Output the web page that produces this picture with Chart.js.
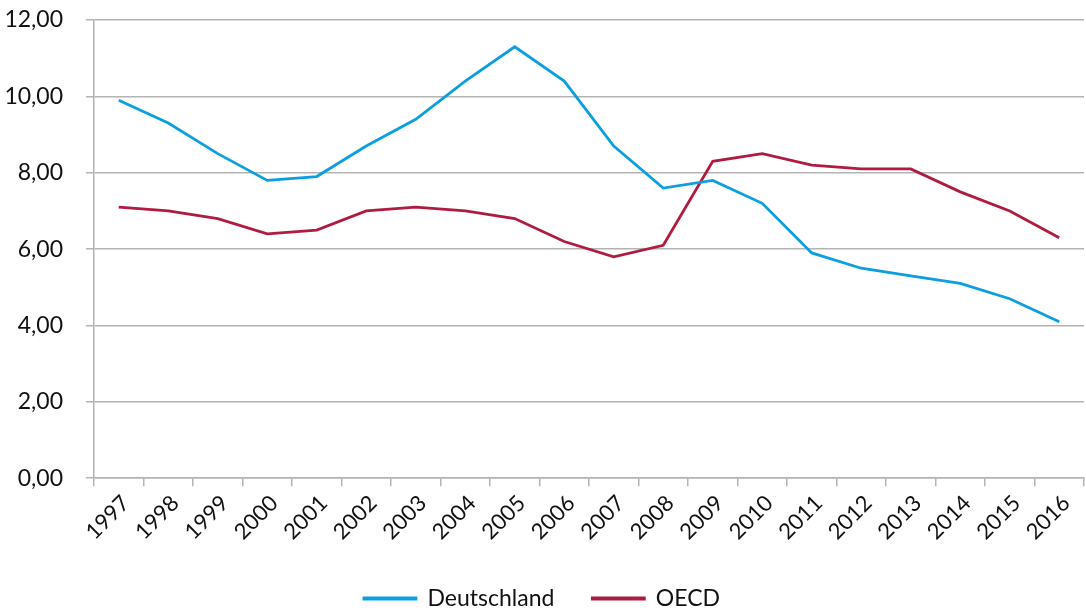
<!DOCTYPE html>
<html>
<head>
<meta charset="utf-8">
<script src="https://cdn.jsdelivr.net/npm/chart.js@4/dist/chart.umd.min.js"></script>
<style>
  html, body { margin: 0; padding: 0; background: #fff; }
  #wrap { width: 1086px; height: 611px; position: relative; }
</style>
</head>
<body>
<div id="wrap"><canvas id="chart"></canvas></div>
<script>
// Jahre und Werte
const years = ['1997', '1998', '1999', '2000', '2001', '2002', '2003', '2004', '2005', '2006',
    '2007', '2008', '2009', '2010', '2011', '2012', '2013', '2014', '2015', '2016'];
const deutschland = [9.9, 9.3, 8.5, 7.8, 7.9, 8.7, 9.4, 10.4, 11.3, 10.4,
    8.7, 7.6, 7.8, 7.2, 5.9, 5.5, 5.3, 5.1, 4.7, 4.1];
const oecd = [7.1, 7.0, 6.8, 6.4, 6.5, 7.0, 7.1, 7.0, 6.8, 6.2,
    5.8, 6.1, 8.3, 8.5, 8.2, 8.1, 8.1, 7.5, 7.0, 6.3];
const yTicks = [0, 2, 4, 6, 8, 10, 12];

const FONT = 'Lato';
const gridGray = '#b3b3b3';

new Chart(document.getElementById('chart'), {
    type: 'line',
    data: {
        labels: years,
        datasets: [
            {
                label: 'Deutschland',
                data: deutschland,
                borderColor: '#0c9fdf',
                backgroundColor: '#0c9fdf',
                borderWidth: 2.8,
                pointRadius: 0,
                tension: 0,
            },
            {
                label: 'OECD',
                data: oecd,
                borderColor: '#b01c40',
                backgroundColor: '#b01c40',
                borderWidth: 2.8,
                pointRadius: 0,
                tension: 0,
            },
        ],
    },
    options: {
        responsive: true,
        maintainAspectRatio: false,
        animation: false,
        layout: { padding: { left: 0, right: 2, top: 20, bottom: -9 } },
        plugins: {
            legend: {
                position: 'bottom',
                labels: {
                    color: '#111',
                    font: { family: FONT, size: 23 },
                    // thin box = line marker
                    boxWidth: 52,
                    boxHeight: 1,
                    padding: 38,
                },
            },
            tooltip: { enabled: false },
        },
        scales: {
            x: {
                offset: true,
                grid: {
                    display: true,
                    drawOnChartArea: false,
                    offset: true,
                    color: gridGray,
                    lineWidth: 1.5,
                    tickLength: 8,
                },
                border: { color: gridGray, width: 1.5 },
                ticks: {
                    color: '#111',
                    font: { family: FONT, size: 22 },
                    minRotation: 45,
                    maxRotation: 45,
                    autoSkip: false,
                    padding: 4,
                    labelOffset: 7,
                },
            },
            y: {
                min: 0,
                max: 12,
                afterBuildTicks: (axis) => {
                    axis.ticks = yTicks.map(v => ({ value: v }));
                },
                afterFit: (axis) => {
                    axis.width = 94;
                    axis.paddingTop = 0;
                },
                grid: {
                    color: gridGray,
                    lineWidth: 1.5,
                    tickLength: 8,
                },
                border: { color: gridGray, width: 1.5 },
                ticks: {
                    color: '#111',
                    font: { family: FONT, size: 23 },
                    padding: 23,
                    callback: (v) => v.toFixed(2).replace('.', ','),
                },
            },
        },
    },
});
</script>
</body>
</html>
